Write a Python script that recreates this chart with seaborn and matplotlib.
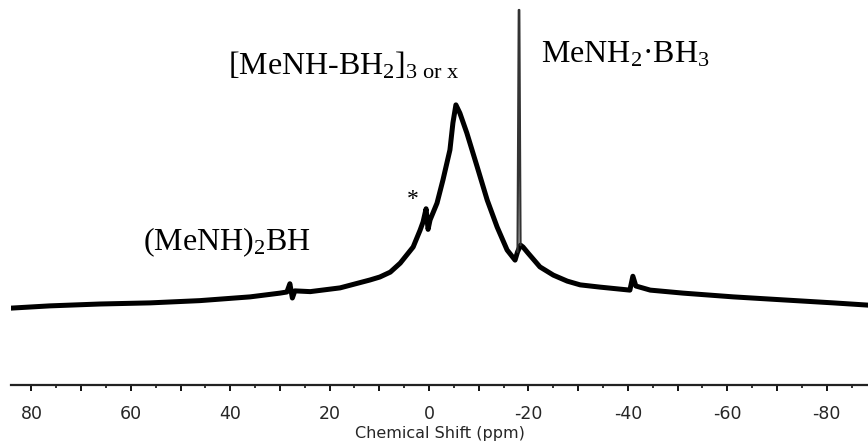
import matplotlib
matplotlib.use("Agg")
import matplotlib.pyplot as plt
import seaborn as sns
import pandas as pd
from matplotlib.ticker import MultipleLocator, FuncFormatter

# ---- data (ppm, intensity a.u.) ----
shift_ppm = [84.1, 76.3, 66.2, 56.1, 46.1, 36.0, 30.0, 28.6, 28.0, 27.5, 27.0,
             23.9, 17.9, 11.9, 9.9, 7.8, 5.8, 3.2, 1.8, 1.2, 0.6, 0.2, -0.2,
             -1.6, -2.8, -4.2, -4.8, -5.4, -6.2, -7.6, -9.7, -11.7, -13.7,
             -15.7, -17.3, -17.8, -18.4, -18.9, -19.9, -22.3, -25.0, -27.8,
             -30.4, -34.4, -40.4, -41.0, -41.6, -44.5, -51.1, -61.2, -71.2,
             -81.3, -88.3]
intensity = [20.5, 21.1, 21.6, 21.9, 22.5, 23.5, 24.5, 24.8, 27.0, 23.2, 25.1,
             24.9, 25.9, 28.0, 28.8, 30.1, 32.5, 36.8, 41.3, 43.5, 47.0, 41.5, 44.0,
             48.5, 54.7, 62.7, 69.9, 74.7, 72.5, 67.2, 58.1, 49.3, 42.1,
             36.0, 33.3, 35.5, 37.3, 36.8, 35.2, 31.5, 29.3, 27.7,
             26.7, 26.1, 25.3, 29.0, 26.4, 25.3, 24.5, 23.5, 22.7,
             21.9, 21.3]
# sharp MeNH2.BH3 resonance
spike_ppm = [-17.8, -18.05, -18.15, -18.4]
spike_int = [35.5, 100.0, 100.0, 37.3]

tick_labels = {80: "80", 60: "60", 40: "40", 20: "20", 0: "0",
               -20: "-20", -40: "-40", -60: "-60", -80: "-80"}

labels = [
    ("(MeNH)$_2$BH", 57.5, 36.0),
    ("[MeNH-BH$_2$]$_{\\mathrm{3\\ or\\ x}}$", 40.4, 82.7),
    ("MeNH$_2$\u00b7BH$_3$", -22.5, 85.9),
]
star = ("*", 3.2, 49.5)

sns.set_style("white")
plt.rcParams["font.family"] = ["DejaVu Sans"]
plt.rcParams["mathtext.fontset"] = "custom"
plt.rcParams["mathtext.rm"] = "Liberation Serif"
plt.rcParams["mathtext.it"] = "Liberation Serif:italic"

fig = plt.figure(figsize=(8.68, 4.43), dpi=100)
ax = fig.add_axes([11 / 868, 58 / 443, 1 - 11 / 868, 1 - 58 / 443])

df = pd.DataFrame({"ppm": shift_ppm, "I": intensity})
sp = pd.DataFrame({"ppm": spike_ppm, "I": spike_int})
sns.lineplot(data=df, x="ppm", y="I", ax=ax, color="black", lw=3.6,
             sort=False, estimator=None, solid_joinstyle="round")
sns.lineplot(data=sp, x="ppm", y="I", ax=ax, color="#333333", lw=1.6,
             sort=False, estimator=None)

ax.set_xlim(84.1, -88.3)
ax.set_ylim(0, 385 / 3.75)

for s in ["left", "top", "right"]:
    ax.spines[s].set_visible(False)
ax.spines["bottom"].set_linewidth(1.6)
ax.spines["bottom"].set_color("#222222")
ax.set_yticks([])
ax.xaxis.set_major_locator(MultipleLocator(10))
ax.xaxis.set_minor_locator(MultipleLocator(5))
ax.xaxis.set_major_formatter(FuncFormatter(lambda v, p: tick_labels.get(int(round(v)), "")))
ax.tick_params(axis="x", which="major", direction="out", length=4.5, width=1.4,
               color="#111111", labelsize=12.5, pad=10, bottom=True)
ax.tick_params(axis="x", which="minor", direction="out", length=2.5, width=1.2,
               color="#111111", bottom=True)
ax.set_xlabel("Chemical Shift (ppm)", fontsize=11.5, labelpad=2)
ax.set_ylabel("")

for txt, x, y in labels:
    ax.text(x, y, txt, family="Liberation Serif", fontsize=23, ha="left",
            va="baseline", color="black")
ax.text(star[1], star[2], star[0], family="Liberation Serif", fontsize=17,
        ha="center", va="center", color="black")

fig.savefig("out.png", dpi=100)
